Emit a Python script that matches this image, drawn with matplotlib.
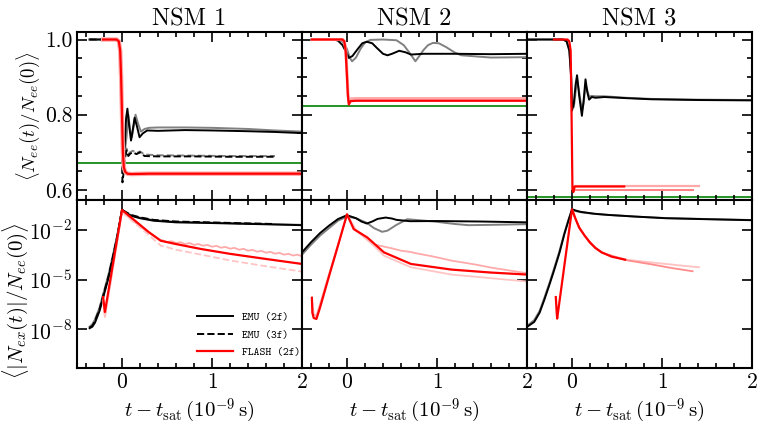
import numpy as np
import matplotlib
matplotlib.use("Agg")
import matplotlib.pyplot as plt
from matplotlib.lines import Line2D
from matplotlib.ticker import MultipleLocator, NullLocator

plt.rcParams['mathtext.fontset'] = 'cm'
plt.rcParams['font.family'] = 'serif'
plt.rcParams['font.serif'] = ['cmr10']
plt.rcParams['axes.formatter.use_mathtext'] = True

# ---------------- data ----------------
titles = ['NSM 1', 'NSM 2', 'NSM 3']
green_level = [0.672, 0.822, 0.58]   # green reference lines (top row)

# top row: <N_ee(t)/N_ee(0)>
nsm1_emu2f_t = [-0.36, -0.08, -0.04, -0.02, -0.01, 0.0, 0.015, 0.03, 0.045, 0.06, 0.08, 0.1, 0.12, 0.14,
                0.165, 0.195, 0.23, 0.28, 0.4, 0.7, 1.0, 1.4, 1.7, 2.0]
nsm1_emu2f_ee = [1.0, 1.0, 0.995, 0.97, 0.9, 0.78, 0.68, 0.72, 0.79, 0.816, 0.77, 0.731, 0.76, 0.792,
                 0.77, 0.74, 0.75, 0.758, 0.757, 0.759, 0.758, 0.756, 0.754, 0.751]
nsm1_emu2f_hr_t = [-0.36, -0.08, -0.04, -0.02, -0.01, 0.0, 0.015, 0.03, 0.05, 0.07, 0.09, 0.11, 0.13, 0.15,
                   0.18, 0.21, 0.25, 0.3, 0.4, 0.7, 1.0, 1.4, 1.7, 2.0]
nsm1_emu2f_hr_ee = [1.0, 1.0, 0.995, 0.97, 0.9, 0.76, 0.69, 0.7, 0.74, 0.8, 0.76, 0.74, 0.77, 0.8,
                    0.775, 0.755, 0.762, 0.765, 0.766, 0.766, 0.765, 0.762, 0.758, 0.755]
nsm1_emu3f_t = [-0.36, -0.08, -0.04, -0.02, -0.005, 0.005, 0.015, 0.03, 0.05, 0.07, 0.09, 0.12, 0.16,
                0.2, 0.25, 0.4, 0.8, 1.2, 1.7]
nsm1_emu3f_ee = [1.0, 1.0, 0.995, 0.97, 0.85, 0.62, 0.64, 0.68, 0.705, 0.69, 0.696, 0.7, 0.695,
                 0.7, 0.69, 0.689, 0.689, 0.688, 0.688]
nsm1_emu3f_hr_ee = [1.0, 1.0, 0.995, 0.97, 0.86, 0.64, 0.66, 0.69, 0.71, 0.695, 0.7, 0.704, 0.698,
                    0.702, 0.694, 0.692, 0.691, 0.69, 0.69]
nsm1_flash_t = [-0.21, -0.06, -0.035, -0.02, -0.01, 0.0, 0.01, 0.02, 0.035, 0.06, 0.1, 0.3, 0.7, 1.2, 2.0]
nsm1_flash_ee = [1.0, 1.0, 0.995, 0.97, 0.9, 0.8, 0.7, 0.66, 0.648, 0.643, 0.642, 0.643, 0.643, 0.643, 0.643]

nsm2_emu2f_t = [-0.39, -0.15, -0.1, -0.05, 0.0, 0.02, 0.06, 0.12, 0.17, 0.22, 0.28, 0.33, 0.4, 0.45,
                0.5, 0.58, 0.65, 0.71, 0.78, 0.85, 1.2, 1.6, 2.0]
nsm2_emu2f_ee = [1.0, 1.0, 0.997, 0.985, 0.962, 0.951, 0.956, 0.975, 0.99, 0.994, 0.99, 0.978, 0.962,
                 0.958, 0.962, 0.97, 0.966, 0.96, 0.961, 0.962, 0.962, 0.961, 0.962]
nsm2_emu2f_hr_t = [-0.39, -0.1, -0.05, 0.0, 0.03, 0.056, 0.1, 0.15, 0.2, 0.26, 0.4, 0.55, 0.63, 0.7, 0.76,
                   0.8, 0.85, 0.9, 0.955, 1.02, 1.1, 1.2, 1.27, 1.6, 2.0]
nsm2_emu2f_hr_ee = [1.0, 1.0, 0.995, 0.975, 0.952, 0.942, 0.952, 0.975, 0.992, 0.999, 1.0, 0.998, 0.985,
                    0.963, 0.942, 0.955, 0.972, 0.985, 0.991, 0.99, 0.98, 0.965, 0.958, 0.952, 0.953]
nsm2_flash_t = [-0.39, -0.05, -0.03, -0.015, 0.0, 0.01, 0.02, 0.04, 0.1, 0.5, 1.0, 2.0]
nsm2_flash_ee = [1.0, 1.0, 0.995, 0.97, 0.9, 0.85, 0.827, 0.836, 0.837, 0.837, 0.837, 0.837]
nsm2_flash_hr_ee = [1.0, 1.0, 0.996, 0.975, 0.91, 0.86, 0.835, 0.842, 0.843, 0.843, 0.843, 0.843]

nsm3_emu2f_t = [-0.48, -0.1, -0.06, -0.03, -0.01, 0.0, 0.02, 0.04, 0.056, 0.08, 0.11, 0.13, 0.15, 0.17,
                0.19, 0.22, 0.26, 0.36, 0.6, 0.88, 1.4, 2.0]
nsm3_emu2f_ee = [1.0, 1.0, 0.995, 0.97, 0.9, 0.811, 0.83, 0.88, 0.905, 0.85, 0.797, 0.84, 0.894, 0.86,
                 0.84, 0.847, 0.845, 0.847, 0.844, 0.841, 0.839, 0.838]
nsm3_emu2f_hr_ee = [1.0, 1.0, 0.996, 0.975, 0.91, 0.83, 0.82, 0.86, 0.895, 0.86, 0.81, 0.83, 0.88, 0.865,
                    0.848, 0.85, 0.849, 0.849, 0.845, 0.842, 0.84, 0.839]
nsm3_flash_t = [-0.2, -0.05, -0.03, -0.015, -0.005, 0.005, 0.015, 0.03, 0.1, 0.3, 0.58]
nsm3_flash_ee = [1.0, 1.0, 0.995, 0.97, 0.8, 0.6, 0.594, 0.609, 0.609, 0.609, 0.609]
nsm3_flash_hr1_ee_t = [0.03, 0.58, 1.0, 1.41]
nsm3_flash_hr1_ee = [0.609, 0.609, 0.609, 0.609]
nsm3_flash_hr2_ee_t = [0.02, 0.5, 1.0, 1.34]
nsm3_flash_hr2_ee = [0.600, 0.600, 0.600, 0.600]

# bottom row: log10 <|N_ex(t)|/N_ee(0)>
nsm1_emu2f_ex_t = [-0.36, -0.33, -0.3, -0.25, -0.2, -0.15, -0.1, -0.05, 0.0, 0.05, 0.1, 0.2, 0.35, 0.6,
                   0.9, 1.3, 1.7, 2.0]
nsm1_emu2f_ex = [-7.94, -7.85, -7.6, -6.9, -5.9, -4.9, -3.7, -2.4, -0.78, -1.0, -1.15, -1.3, -1.45, -1.55,
                 -1.58, -1.63, -1.68, -1.72]
nsm1_emu2f_hr_ex = [-7.85, -7.7, -7.4, -6.7, -5.7, -4.7, -3.5, -2.25, -0.8, -0.98, -1.12, -1.27, -1.42,
                    -1.52, -1.56, -1.61, -1.66, -1.7]
nsm1_emu3f_ex_t = [-0.36, -0.33, -0.3, -0.25, -0.2, -0.15, -0.1, -0.05, 0.0, 0.05, 0.1, 0.2, 0.35, 0.6,
                   0.9, 1.3, 1.7]
nsm1_emu3f_ex = [-7.9, -7.8, -7.5, -6.8, -5.8, -4.8, -3.6, -2.3, -0.8, -0.95, -1.1, -1.25, -1.4, -1.5,
                 -1.54, -1.6, -1.65]
nsm1_flash_ex_t = [-0.21, -0.19, -0.1, 0.0, 0.1, 0.2, 0.3, 0.43, 0.6, 0.88, 1.2, 1.6, 2.0]
nsm1_flash_ex = [-6.06, -6.96, -4.04, -0.8, -1.25, -1.7, -2.15, -2.66, -2.86, -3.16, -3.45, -3.76, -4.06]
nsm1_flash_hr1_t = [-0.21, -0.19, 0.0, 0.2, 0.43, 0.45, 0.5, 0.55, 0.6, 0.65, 0.7, 0.75, 0.8, 0.85, 0.9,
                    0.95, 1.0, 1.05, 1.1, 1.15, 1.2, 1.25, 1.3, 1.35, 1.4, 1.45, 1.5, 1.55, 1.6, 1.65,
                    1.7, 1.75, 1.8, 1.85, 1.9, 1.95, 2.0]
nsm1_flash_hr1_ex = [-6.2, -7.25, -0.9, -1.8, -2.62, -2.63, -2.74, -2.69, -2.8, -2.75, -2.86, -2.8, -2.91,
                     -2.86, -2.96, -2.91, -3.02, -2.97, -3.08, -3.03, -3.14, -3.09, -3.2, -3.15, -3.26,
                     -3.21, -3.32, -3.27, -3.38, -3.33, -3.44, -3.39, -3.5, -3.45, -3.55, -3.5, -3.6]
nsm1_flash_hr2_t = [-0.21, -0.19, 0.0, 0.2, 0.43, 0.6, 0.88, 1.2, 1.6, 2.0]
nsm1_flash_hr2_ex = [-6.2, -7.3, -0.95, -1.85, -2.95, -3.2, -3.5, -3.85, -4.2, -4.52]

nsm2_emu2f_ex_t = [-0.5, -0.4, -0.3, -0.2, -0.1, 0.0, 0.1, 0.16, 0.22, 0.28, 0.34, 0.43, 0.5, 0.55, 0.7,
                   1.0, 1.5, 2.0]
nsm2_emu2f_ex = [-3.36, -2.75, -2.2, -1.75, -1.35, -1.12, -1.3, -1.5, -1.62, -1.5, -1.34, -1.26, -1.32,
                 -1.4, -1.48, -1.47, -1.5, -1.55]
nsm2_emu2f_hr_ex_t = [-0.5, -0.4, -0.3, -0.2, -0.1, 0.0, 0.1, 0.22, 0.3, 0.39, 0.45, 0.55, 0.67, 0.8, 0.97,
                      1.2, 1.35, 1.6, 2.0]
nsm2_emu2f_hr_ex = [-3.5, -2.9, -2.35, -1.9, -1.45, -1.2, -1.3, -1.58, -1.9, -2.12, -2.05, -1.7, -1.36,
                    -1.42, -1.5, -1.65, -1.72, -1.7, -1.66]
nsm2_flash_ex_t = [-0.39, -0.385, -0.37, -0.34, -0.3, -0.2, -0.1, 0.0, 0.075, 0.225, 0.41, 0.71, 1.16,
                   1.6, 2.0]
nsm2_flash_ex = [-6.1, -7.0, -7.32, -7.38, -6.7, -4.8, -2.95, -1.06, -1.96, -2.46, -3.36, -4.06, -4.4,
                 -4.58, -4.7]
nsm2_flash_hr1_t = [-0.39, -0.37, -0.34, 0.0, 0.075, 0.28, 0.4, 0.5, 0.6, 0.7, 0.8, 0.9, 1.0, 1.16, 1.3,
                    1.45, 1.6, 1.8, 2.0]
nsm2_flash_hr1_ex = [-6.2, -7.1, -7.2, -1.1, -1.9, -2.86, -3.0, -3.12, -3.26, -3.33, -3.45, -3.55, -3.66,
                     -3.86, -3.98, -4.12, -4.28, -4.45, -4.62]
nsm2_flash_hr2_t = [0.0, 0.1, 0.25, 0.41, 0.71, 1.16, 1.6, 2.0]
nsm2_flash_hr2_ex = [-1.1, -2.0, -2.7, -3.56, -4.26, -4.7, -4.92, -5.12]

nsm3_emu2f_ex_t = [-0.5, -0.42, -0.36, -0.31, -0.25, -0.2, -0.14, -0.085, -0.04, 0.0, 0.05, 0.1, 0.25,
                   0.4, 0.7, 1.04, 1.5, 2.0]
nsm3_emu2f_ex = [-7.86, -7.56, -7.0, -6.26, -5.3, -4.46, -3.4, -2.26, -1.45, -0.76, -0.85, -0.92, -1.03,
                 -1.1, -1.2, -1.3, -1.36, -1.42]
nsm3_emu2f_hr_ex = [-7.8, -7.45, -6.9, -6.15, -5.2, -4.35, -3.3, -2.2, -1.4, -0.8, -0.88, -0.94, -1.04,
                    -1.1, -1.2, -1.29, -1.35, -1.41]
nsm3_flash_ex_t = [-0.18, -0.17, -0.165, -0.1, 0.0, 0.04, 0.08, 0.14, 0.2, 0.26, 0.33, 0.44, 0.59]
nsm3_flash_ex = [-6.06, -7.0, -7.36, -4.76, -0.76, -1.35, -1.86, -2.35, -2.76, -3.1, -3.36, -3.62, -3.8]
nsm3_flash_hr1_t = [0.0, 0.08, 0.2, 0.33, 0.59, 0.9, 1.2, 1.41]
nsm3_flash_hr1_ex = [-0.8, -1.9, -2.8, -3.38, -3.8, -3.98, -4.15, -4.26]
nsm3_flash_hr2_t = [0.0, 0.08, 0.2, 0.33, 0.59, 0.9, 1.1, 1.34]
nsm3_flash_hr2_ex = [-0.8, -1.9, -2.8, -3.38, -3.82, -4.1, -4.3, -4.5]

# ---------------- figure ----------------
fig = plt.figure(figsize=(7.64, 4.30), dpi=100)
gs = fig.add_gridspec(2, 3, left=0.1008, right=0.9843, top=0.9256, bottom=0.1442,
                      wspace=0, hspace=0)
axes = [[fig.add_subplot(gs[r, c]) for c in range(3)] for r in range(2)]

pink = '#ffaaaa'
lw = 1.4

# NSM 1 top
ax = axes[0][0]
ax.plot(nsm1_emu2f_hr_t, nsm1_emu2f_hr_ee, color='gray', lw=lw)
ax.plot(nsm1_emu2f_t, nsm1_emu2f_ee, color='k', lw=lw)
ax.plot(nsm1_emu3f_t, nsm1_emu3f_hr_ee, color='gray', lw=lw, ls='--')
ax.plot(nsm1_emu3f_t, nsm1_emu3f_ee, color='k', lw=lw, ls='--')
ax.plot(nsm1_flash_t, nsm1_flash_ee, color=pink, lw=3.2)
ax.plot(nsm1_flash_t, nsm1_flash_ee, color='red', lw=1.6)

# NSM 2 top
ax = axes[0][1]
ax.plot(nsm2_emu2f_hr_t, nsm2_emu2f_hr_ee, color='gray', lw=lw)
ax.plot(nsm2_emu2f_t, nsm2_emu2f_ee, color='k', lw=lw)
ax.plot(nsm2_flash_t, nsm2_flash_hr_ee, color=pink, lw=2.2)
ax.plot(nsm2_flash_t, nsm2_flash_ee, color='red', lw=1.6)

# NSM 3 top
ax = axes[0][2]
ax.plot(nsm3_emu2f_t, nsm3_emu2f_hr_ee, color='gray', lw=lw)
ax.plot(nsm3_emu2f_t, nsm3_emu2f_ee, color='k', lw=lw)
ax.plot(nsm3_flash_hr1_ee_t, nsm3_flash_hr1_ee, color=pink, lw=1.6)
ax.plot(nsm3_flash_hr2_ee_t, nsm3_flash_hr2_ee, color='#ff8080', lw=1.4)
ax.plot(nsm3_flash_t, nsm3_flash_ee, color='red', lw=1.6)

for c in range(3):
    axes[0][c].axhline(green_level[c], color='green', lw=1.2, zorder=1)

# bottom row (values stored as log10)
def lg(v):
    return 10.0 ** np.asarray(v)

ax = axes[1][0]
ax.plot(nsm1_emu2f_ex_t, lg(nsm1_emu2f_hr_ex), color='gray', lw=lw)
ax.plot(nsm1_emu2f_ex_t, lg(nsm1_emu2f_ex), color='k', lw=lw)
ax.plot(nsm1_emu3f_ex_t, lg(nsm1_emu3f_ex), color='k', lw=lw, ls='--')
ax.plot(nsm1_flash_hr1_t, lg(nsm1_flash_hr1_ex), color=pink, lw=1.3)
ax.plot(nsm1_flash_hr2_t, lg(nsm1_flash_hr2_ex), color='#ffc4c4', lw=1.3, ls='--')
ax.plot(nsm1_flash_ex_t, lg(nsm1_flash_ex), color='red', lw=1.6)

ax = axes[1][1]
ax.plot(nsm2_emu2f_hr_ex_t, lg(nsm2_emu2f_hr_ex), color='gray', lw=lw)
ax.plot(nsm2_emu2f_ex_t, lg(nsm2_emu2f_ex), color='k', lw=lw)
ax.plot(nsm2_flash_hr1_t, lg(nsm2_flash_hr1_ex), color=pink, lw=1.3)
ax.plot(nsm2_flash_hr2_t, lg(nsm2_flash_hr2_ex), color='#ffc4c4', lw=1.3)
ax.plot(nsm2_flash_ex_t, lg(nsm2_flash_ex), color='red', lw=1.6)

ax = axes[1][2]
ax.plot(nsm3_emu2f_ex_t, lg(nsm3_emu2f_hr_ex), color='gray', lw=lw)
ax.plot(nsm3_emu2f_ex_t, lg(nsm3_emu2f_ex), color='k', lw=lw)
ax.plot(nsm3_flash_hr1_t, lg(nsm3_flash_hr1_ex), color='#ffc4c4', lw=1.4)
ax.plot(nsm3_flash_hr2_t, lg(nsm3_flash_hr2_ex), color='#ff8c8c', lw=1.3)
ax.plot(nsm3_flash_ex_t, lg(nsm3_flash_ex), color='red', lw=1.6)

# axes styling
for r in range(2):
    for c in range(3):
        ax = axes[r][c]
        ax.set_xlim(-0.5, 2.0)
        ax.xaxis.set_major_locator(MultipleLocator(1))
        ax.xaxis.set_minor_locator(MultipleLocator(0.2))
        ax.tick_params(which='both', direction='in', top=True, right=True)
        ax.tick_params(which='major', length=7, width=1.2, labelsize=15.5)
        ax.tick_params(which='minor', length=3.5, width=1.2)
        for s in ax.spines.values():
            s.set_linewidth(1.5)
        if r == 0:
            ax.set_ylim(0.573, 1.02)
            ax.set_yticks([0.6, 0.8, 1.0])
            ax.yaxis.set_minor_locator(MultipleLocator(0.05))
            ax.set_yticklabels(['0.6', '0.8', '1.0'] if c == 0 else [])
            ax.set_xticklabels([])
            ax.set_title(titles[c], fontsize=17.5, pad=5)
        else:
            ax.set_yscale('log')
            ax.set_ylim(10 ** -10.34, 10 ** -0.2)
            ax.set_yticks([1e-8, 1e-5, 1e-2])
            ax.yaxis.set_minor_locator(NullLocator())
            ax.set_yticklabels([r'$10^{-8}$', r'$10^{-5}$', r'$10^{-2}$'] if c == 0 else [])
            ax.set_xticks([0, 1, 2])
            ax.set_xticklabels(['0', '1', '2'])
            ax.set_xlabel(r'$t-t_{\rm sat}\,(10^{-9}\,{\rm s})$', fontsize=15, labelpad=3)

axes[0][0].set_ylabel(r'$\langle N_{ee}(t)/N_{ee}(0)\rangle$', fontsize=13.5)
axes[0][0].yaxis.set_label_coords(-0.155, 0.5)
axes[1][0].set_ylabel(r'$\langle |N_{ex}(t)|/N_{ee}(0)\rangle$', fontsize=15)
axes[1][0].yaxis.set_label_coords(-0.205, 0.40)

handles = [Line2D([], [], color='k', lw=lw),
           Line2D([], [], color='k', lw=lw, ls='--'),
           Line2D([], [], color='red', lw=1.6)]
axes[1][0].legend(handles, ['EMU (2f)', 'EMU (3f)', 'FLASH (2f)'], loc='lower left',
                  bbox_to_anchor=(0.49, 0.0), frameon=False, prop={'family': 'cmtt10', 'size': 8},
                  handlelength=3.2, labelspacing=0.6)

fig.savefig('out.png', dpi=100)
